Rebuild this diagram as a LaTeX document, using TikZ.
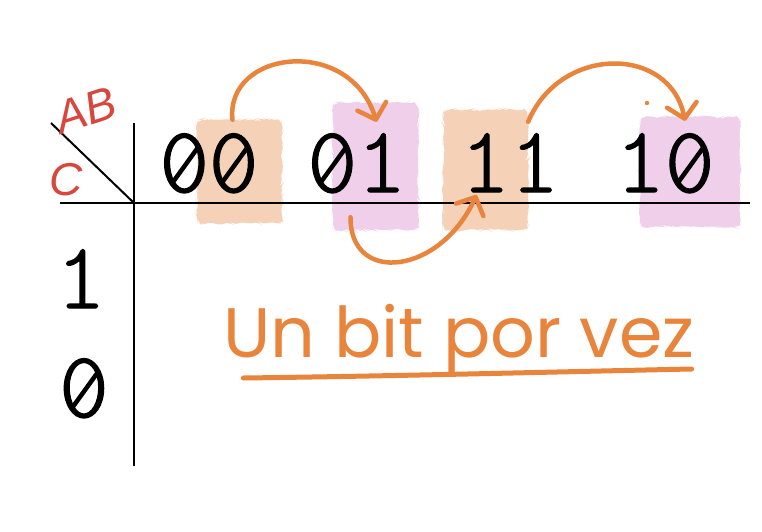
\documentclass[tikz,border=0pt]{standalone}
\usepackage{fontspec}
\usetikzlibrary{arrows.meta,decorations.pathmorphing}
\newfontfamily\monofont[FakeBold=1.4]{Latin Modern Mono Light}
\newfontfamily\handfont{Poppins}
\newfontfamily\varfont{Liberation Sans}
\definecolor{hand}{HTML}{E8843C}
\definecolor{peach}{HTML}{F4D1B7}
\definecolor{lilac}{HTML}{EFCFEA}
\definecolor{varred}{HTML}{D8473E}
\begin{document}
\begin{tikzpicture}[x=1pt, y=-1pt,
  bit/.style={font=\monofont\fontsize{94}{94}\selectfont, inner sep=0pt, anchor=base},
  slash/.style={line width=4.5pt, line cap=round},
  patch/.style={inner sep=0pt, minimum width=85pt, rounded corners=5pt,
    decorate, decoration={random steps, segment length=4pt, amplitude=1.5pt}},
  hop/.style={draw=hand, line width=4.5pt, line cap=round, -{Straight Barb[length=14pt,width=30pt,round]}},
  var/.style={text=varred, font=\varfont\itshape\fontsize{46}{46}\selectfont, inner sep=0pt}]
\useasboundingbox (0,0) rectangle (762,532);
% highlighted columns
\node[patch, fill=peach, minimum height=103pt] (p00) at (239.5,171.5) {};
\node[patch, fill=lilac, minimum height=127pt] (p01) at (375.5,166.5) {};
\node[patch, fill=peach, minimum height=120pt] (p11) at (485.5,170) {};
\node[patch, fill=lilac, minimum height=110pt, minimum width=100pt] (p10) at (690,172) {};
% axes
\coordinate (corner) at (134,203);
\draw[line width=2pt] (60,203) -- (750,203);
\draw[line width=2pt] (134,123) -- (134,466);
\draw[line width=2pt] (51,123) -- (corner);
\node[var, rotate=18] (ab) at (86,110) {AB};
\node[var] (c) at (66,180) {C};
% gray code
\node[bit] (g00) at (209,192) {00};
\node[bit] (g01) at (357,192) {01};
\node[bit] (g11) at (510,192) {11};
\node[bit] (g10) at (665,192) {10};
\node[bit] (r1) at (81,308) {1};
\node[bit] (r0) at (84,417) {0};
\foreach \n/\dx in {g00/-24.7, g00/24.7, g01/-24.7, g10/24.7, r0/0}
  \draw[slash] ([xshift={\dx pt-12pt}, yshift=9pt]\n.base) -- ([xshift={\dx pt+14pt}, yshift=45pt]\n.base);
% one bit at a time
\draw[hop] ([xshift=-7pt]p00.north) .. controls (225,50) and (350,35) .. ([xshift=1pt,yshift=-19pt]p01.north);
\draw[hop] ([xshift=-25pt,yshift=13pt]p01.south) .. controls (350,285) and (440,275) .. ([xshift=-9pt,yshift=-25pt]p11.center);
\draw[hop] ([yshift=-12pt]p11.north east) .. controls (560,45) and (670,45) .. ([xshift=-5pt,yshift=-4pt]p10.north);
\fill[hand] (647,103) circle (2.2pt);
\node[text=hand, font=\handfont\fontsize{70}{70}\selectfont, inner sep=0pt, anchor=base] (motto) at (459,357) {Un bit por vez};
\draw[hand, line width=5pt, line cap=round] ([xshift=20pt,yshift=-21pt]motto.base west) .. controls (400,376) and (550,372) .. ([xshift=-3pt,yshift=-12pt]motto.base east);
\end{tikzpicture}
\end{document}
